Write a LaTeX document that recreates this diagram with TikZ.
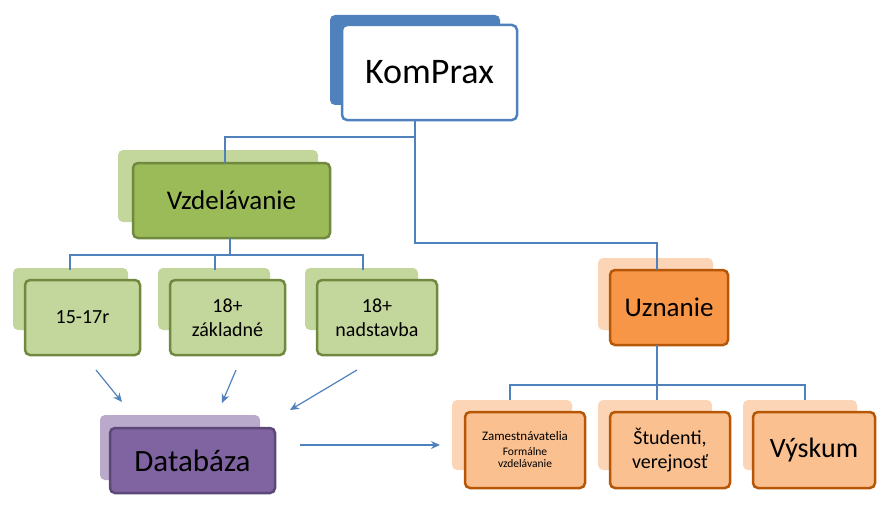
\documentclass[tikz,border=0pt]{standalone}
\usepackage{fontspec}
\setmainfont{Carlito}
\usetikzlibrary{arrows.meta}
\definecolor{blu}{HTML}{4F81BD}
\definecolor{grnB}{HTML}{C3D69B}\definecolor{grn}{HTML}{9BBB59}\definecolor{grnD}{HTML}{71893F}
\definecolor{purB}{HTML}{B9AACC}\definecolor{pur}{HTML}{8064A2}\definecolor{purD}{HTML}{5C4776}
\definecolor{orB}{HTML}{FBD5B5}\definecolor{orM}{HTML}{FAC090}\definecolor{orr}{HTML}{F79646}\definecolor{orD}{HTML}{B65708}
\tikzset{
 box/.style={rounded corners=5pt,line width=2.5pt,align=center,inner sep=0pt},
 conn/.style={draw=blu,line width=1.2pt},
 arr/.style={draw=blu,line width=1.2pt,-{Stealth[length=9pt,width=8pt]}}
}
\begin{document}
\begin{tikzpicture}[x=1pt,y=-1pt]
\useasboundingbox (0,0) rectangle (885,532);
% KomPrax
\fill[blu,rounded corners=5pt] (330,15) rectangle (500,105);
\node[box,draw=blu,fill=white,minimum width=175,minimum height=95,font=\fontsize{36}{40}\selectfont] (k) at (429.5,72.5) {KomPrax};
% Vzdelavanie
\fill[grnB,rounded corners=5pt] (118,150) rectangle (318,222);
\node[box,draw=grnD,fill=grn,minimum width=197,minimum height=75,font=\fontsize{27}{30}\selectfont] (v) at (231.5,200.5) {Vzdelávanie};
% Uznanie
\fill[orB,rounded corners=5pt] (598,258) rectangle (713,330);
\node[box,draw=orD,fill=orr,minimum width=118,minimum height=75,font=\fontsize{27}{30}\selectfont] (u) at (669,307.5) {Uznanie};
% connectors top
\coordinate (j1) at (415,137);
\draw[conn] (415,120) -- (j1) -- (225,137) -- (225,163);
\draw[conn] (j1) -- (415,243) -- (657,243) -- (657,270);
% education children
\fill[grnB,rounded corners=5pt] (13,268) rectangle (128,330);
\fill[grnB,rounded corners=5pt] (158,268) rectangle (270,330);
\fill[grnB,rounded corners=5pt] (305,268) rectangle (418,330);
\node[box,draw=grnD,fill=grnB,minimum width=115,minimum height=75,font=\fontsize{20}{24}\selectfont] (c1) at (82.5,317.5) {15-17r};
\node[box,draw=grnD,fill=grnB,minimum width=115,minimum height=75,font=\fontsize{20}{24}\selectfont] (c2) at (227.5,317.5) {18+\\základné};
\node[box,draw=grnD,fill=grnB,minimum width=120,minimum height=75,font=\fontsize{20}{24}\selectfont] (c3) at (377,317.5) {18+\\nadstavba};
\draw[conn] (230,238) -- (230,255);
\draw[conn] (70,270) -- (70,255) -- (363,255) -- (363,270);
\draw[conn] (215,255) -- (215,270);
% Databaza
\fill[purB,rounded corners=5pt] (100,415) rectangle (260,480);
\node[box,draw=purD,fill=pur,minimum width=165,minimum height=65,font=\fontsize{31}{34}\selectfont] (d) at (192.5,460.5) {Databáza};
\coordinate (a1) at (96,370); \coordinate (a1e) at (122,402);
\coordinate (a2) at (236,370); \coordinate (a2e) at (222,403);
\coordinate (a3) at (357,370); \coordinate (a3e) at (290,410);
\coordinate (a4) at (300,445); \coordinate (a4e) at (440,445);
\draw[arr] (a1) -- (a1e);
\draw[arr] (a2) -- (a2e);
\draw[arr] (a3) -- (a3e);
\draw[arr] (a4) -- (a4e);
% Uznanie children
\draw[conn] (657,345) -- (657,385);
\draw[conn] (510,400) -- (510,385) -- (805,385) -- (805,400);
\draw[conn] (657,385) -- (657,400);
\fill[orB,rounded corners=5pt] (452,400) rectangle (572,470);
\fill[orB,rounded corners=5pt] (598,400) rectangle (712,470);
\fill[orB,rounded corners=5pt] (743,400) rectangle (857,470);
\node[box,draw=orD,fill=orM,minimum width=120,minimum height=76] (o1) at (525,450) {{\fontsize{13}{15}\selectfont Zamestnávatelia}\\[3pt]{\fontsize{11.5}{13}\selectfont Formálne}\\{\fontsize{11.5}{13}\selectfont vzdelávanie}};
\node[box,draw=orD,fill=orM,minimum width=120,minimum height=76,font=\fontsize{20}{24}\selectfont] (o2) at (670,450) {Študenti,\\verejnosť};
\node[box,draw=orD,fill=orM,minimum width=122,minimum height=76,font=\fontsize{28}{30}\selectfont] (o3) at (814,450) {Výskum};
\end{tikzpicture}
\end{document}
